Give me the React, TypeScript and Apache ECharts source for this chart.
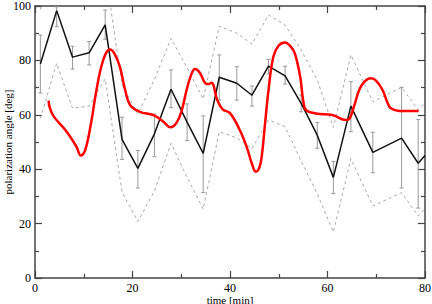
import React, { useEffect, useRef } from "react";
import * as echarts from "echarts";

// time of each polarization measurement [min]
const timeMin = [1.1, 4.45, 7.7, 11.1, 14.4, 17.85, 21.1, 24.5, 27.9, 31.2, 34.5, 37.8, 41.4, 44.5, 47.9, 51.3, 54.6, 57.9, 61.2, 64.8, 69.3, 75.2, 78.6, 80];
// measured polarization angle [deg]
const angle = [78.7, 98.3, 81.2, 82.8, 93.1, 51.0, 40.3, 53.0, 69.4, 57.3, 45.8, 73.8, 71.6, 67.2, 77.9, 74.3, 64.2, 52.5, 37.0, 63.2, 46.2, 51.4, 42.2, 45.0];
// error bar low / high
const errLow = [68.0, 92.4, 76.8, 78.3, 87.8, 43.6, 33.1, 44.6, 62.6, 50.5, 31.4, 65.4, 65.4, 63.2, 75.0, 71.3, 61.1, 47.7, 31.0, 53.8, 38.7, 33.1, 25.7, null];
const errHigh = [89.3, 99.7, 85.2, 86.9, 98.5, 59.1, 46.9, 60.3, 76.5, 64.0, 59.6, 82.0, 77.7, 70.6, 80.4, 77.9, 67.3, 57.2, 42.9, 72.2, 53.6, 70.1, 58.3, null];
// dashed envelope
const upperBound = [98.7, 118.3, 101.2, 102.8, 113.1, 71.0, 60.3, 73.0, 88.1, 77.3, 65.8, 92.6, 90.0, 86.0, 96.7, 93.0, 83.8, 72.8, 55.4, 82.0, 64.8, 70.1, 61.8, 64.2];
const lowerBound = [58.7, 78.9, 62.4, 63.2, 73.2, 31.6, 20.8, 32.0, 49.5, 37.0, 25.3, 53.8, 51.5, 47.5, 58.1, 55.6, 43.0, 31.0, 16.9, 43.9, 26.5, 31.4, 22.8, 25.5];
// model curve (red)
const modelTime = [2.8, 3.0, 3.8, 6.5, 8.5, 9.4, 10.3, 11.5, 12.5, 13.5, 14.5, 15.4, 16.3, 17.4, 18.5, 19.5, 21.5, 24.3, 26.3, 27.8, 29.0, 30.0, 31.1, 32.0, 32.8, 33.8, 35.0, 35.6, 36.2, 37.4, 38.5, 40.0, 42.0, 43.4, 44.5, 45.3, 46.0, 46.5, 47.2, 47.9, 48.9, 50.0, 51.3, 52.5, 53.3, 54.4, 55.0, 55.6, 57.6, 61.0, 63.8, 64.5, 65.5, 66.5, 67.5, 68.9, 70.0, 71.3, 72.3, 73.0, 74.7, 78.7];
const modelAngle = [65.2, 62.8, 59.5, 53.8, 48.3, 45.0, 47.0, 57.0, 68.0, 77.0, 82.5, 84.0, 82.5, 77.7, 69.1, 63.6, 61.1, 59.9, 57.5, 55.4, 57.0, 61.0, 69.1, 74.5, 76.8, 75.5, 71.5, 71.3, 71.8, 65.4, 62.0, 60.6, 54.4, 48.3, 42.0, 39.1, 40.5, 44.6, 56.9, 69.1, 81.4, 85.5, 86.6, 85.0, 82.6, 74.0, 65.4, 61.8, 60.5, 59.9, 58.1, 58.5, 63.5, 69.1, 72.0, 73.4, 72.5, 69.1, 64.5, 62.4, 61.4, 61.4];

const xTicks = [0, 20, 40, 60, 80];
const yTicks = [0, 20, 40, 60, 80, 100];

const FONT = "Liberation Serif";

export default function App() {
  const ref = useRef<HTMLDivElement>(null);
  useEffect(() => {
    if (!ref.current) return;
    const chart = echarts.init(ref.current, undefined, { renderer: "svg" });
    const axisLineStyle = { color: "#444", width: 1.5 };
    const baseX = {
      type: "value" as const,
      min: xTicks[0],
      max: xTicks[xTicks.length - 1],
      interval: 20,
      splitLine: { show: false },
      axisLine: { show: true, onZero: false, lineStyle: axisLineStyle },
      axisTick: { show: true, inside: true, length: 7, lineStyle: { color: "#444", width: 1.2 } },
      minorTick: { show: true, splitNumber: 2, length: 4, lineStyle: { color: "#444", width: 1.2 } },
    };
    const baseY = {
      type: "value" as const,
      min: yTicks[0],
      max: yTicks[yTicks.length - 1],
      interval: 20,
      splitLine: { show: false },
      axisLine: { show: true, onZero: false, lineStyle: axisLineStyle },
      axisTick: { show: true, inside: true, length: 7, lineStyle: { color: "#444", width: 1.2 } },
      minorTick: { show: true, splitNumber: 2, length: 4, lineStyle: { color: "#444", width: 1.2 } },
    };
    const pts = (xs: number[], ys: number[]) => xs.map((x, i) => [x, ys[i]]);
    const errData = timeMin
      .map((t, i) => [t, errLow[i], errHigh[i]])
      .filter((d) => d[1] != null && d[2] != null);
    chart.setOption({
      animation: false,
      backgroundColor: "#fff",
      grid: { left: 35, right: 7, top: 6, bottom: 26, containLabel: false, outerBoundsMode: "none" },
      xAxis: [
        {
          ...baseX,
          position: "bottom",
          name: "time [min]",
          nameLocation: "middle",
          nameGap: 16,
          nameMoveOverlap: false,
          nameTextStyle: { fontFamily: FONT, fontSize: 11, color: "#000", verticalAlign: "top" },
          axisLabel: { show: true, fontFamily: FONT, fontSize: 12, color: "#000", margin: 4 },
        },
        { ...baseX, position: "top", axisLabel: { show: false } },
      ],
      yAxis: [
        {
          ...baseY,
          position: "left",
          name: "polarization angle [deg]",
          nameLocation: "middle",
          nameGap: 22,
          nameMoveOverlap: false,
          nameTextStyle: { fontFamily: FONT, fontSize: 11, color: "#000" },
          axisLabel: { show: true, fontFamily: FONT, fontSize: 12, color: "#000", margin: 4 },
        },
        { ...baseY, position: "right", axisLabel: { show: false } },
      ],
      series: [
        {
          type: "line",
          data: pts(timeMin, upperBound),
          showSymbol: false,
          clip: true,
          lineStyle: { color: "#aaa", width: 1, type: [3, 3] },
          z: 1,
        },
        {
          type: "line",
          data: pts(timeMin, lowerBound),
          showSymbol: false,
          clip: true,
          lineStyle: { color: "#aaa", width: 1, type: [3, 3] },
          z: 1,
        },
        {
          type: "custom",
          data: errData,
          encode: { x: 0, y: [1, 2] },
          z: 2,
          renderItem: (params: any, api: any) => {
            const x = api.value(0);
            const lo = api.coord([x, api.value(1)]);
            const hi = api.coord([x, api.value(2)]);
            const st = { stroke: "#999", lineWidth: 1 };
            return {
              type: "group",
              children: [
                { type: "line", shape: { x1: lo[0], y1: lo[1], x2: hi[0], y2: hi[1] }, style: st },
                { type: "line", shape: { x1: lo[0] - 2, y1: lo[1], x2: lo[0] + 2, y2: lo[1] }, style: st },
                { type: "line", shape: { x1: hi[0] - 2, y1: hi[1], x2: hi[0] + 2, y2: hi[1] }, style: st },
              ],
            };
          },
        },
        {
          type: "line",
          data: pts(timeMin, angle),
          showSymbol: false,
          clip: true,
          lineStyle: { color: "#111", width: 1.5 },
          z: 3,
        },
        {
          type: "line",
          data: pts(modelTime, modelAngle),
          showSymbol: false,
          smooth: 0.4,
          clip: true,
          lineStyle: { color: "#ff0000", width: 2.5 },
          z: 4,
        },
      ],
    });
    return () => chart.dispose();
  }, []);
  return (
    <div
      ref={ref}
      style={{ position: "fixed", left: 0, top: 0, width: 432, height: 304, background: "#fff" }}
    />
  );
}
